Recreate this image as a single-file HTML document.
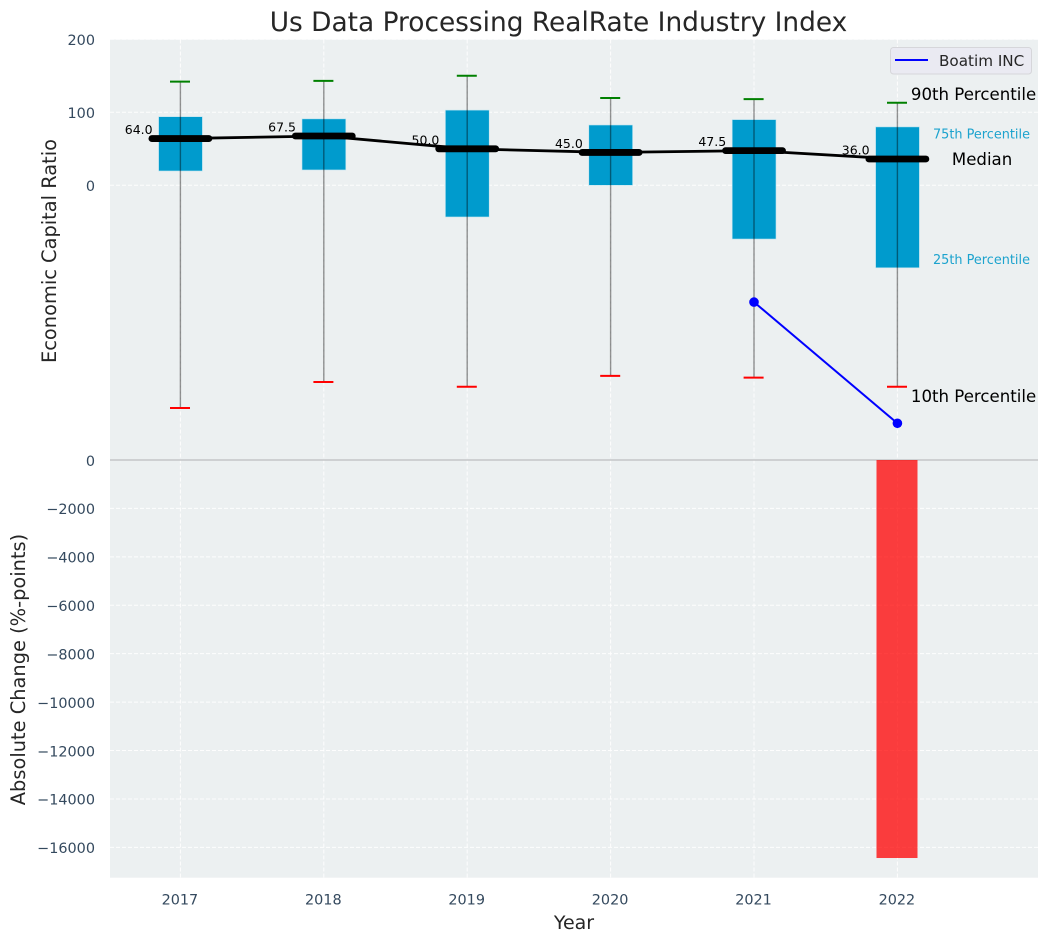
<!DOCTYPE html>
<html lang="en">
<head>
<meta charset="utf-8">
<title>Us Data Processing RealRate Industry Index</title>
<style>
html,body{margin:0;padding:0;background:#fff;width:1048px;height:942px;overflow:hidden}
svg{display:block;font-family:"DejaVu Sans","Liberation Sans",sans-serif}
</style>
</head>
<body>
<svg id="chart" xmlns="http://www.w3.org/2000/svg" width="1048" height="942" viewBox="0 0 1048 942">
  <rect x="110" y="39.5" width="928" height="838.2" fill="#ecf0f1"/>
  <g id="grid"></g>
  <g id="bars"></g>
  <g id="boxes"></g>
  <g id="whiskers"></g>
  <g id="labels"></g>
  <g id="medians"></g>
  <g id="company"></g>
  <g id="ticks"></g>
  <g id="annotations"></g>
  <text x="558.5" y="31" text-anchor="middle" font-size="26.4" fill="#262626">Us Data Processing RealRate Industry Index</text>
  <text x="574" y="929" text-anchor="middle" font-size="19" fill="#262626">Year</text>
  <text transform="translate(56,251) rotate(-90)" text-anchor="middle" font-size="19.4" fill="#262626">Economic Capital Ratio</text>
  <text transform="translate(25,669.5) rotate(-90)" text-anchor="middle" font-size="19.4" fill="#262626">Absolute Change (%-points)</text>
  <g>
    <rect x="890.5" y="47.5" width="141" height="26.5" rx="3" fill="#eaeaf2" stroke="#d6d6da" stroke-width="1"/>
    <line x1="895" y1="60" x2="928" y2="60" stroke="#0000ff" stroke-width="2"/>
    <text x="939" y="66" font-size="15.2" fill="#262626">Boatim INC</text>
  </g>
</svg>
<script>
const years = [2017, 2018, 2019, 2020, 2021, 2022];
const p90 = [142, 143, 150, 119.6, 118, 113];
const p75 = [94, 91, 103, 82.6, 90, 80];
const medianValues = [64, 67.5, 50, 45, 47.5, 36];
const p25 = [19.6, 21, -43.4, 0, -73.6, -113];
const p10 = [-305, -269.5, -276, -261, -263.5, -276];
const boatimYears = [2021, 2022];
const boatimValues = [-160, -326];
const changeYears = [2022];
const changeValues = [-16440];
const upperTicks = [200, 100, 0];
const lowerTicks = [0, -2000, -4000, -6000, -8000, -10000, -12000, -14000, -16000];

const SVG_NS = 'http://www.w3.org/2000/svg';
function xScale(year) { return 180.4 + (year - 2017) * 143.4; }
function yUpper(value) { return 185.3 - value * 0.73; }
function yLower(value) { return 460 - value * 0.02421; }
function make(tag, parentId, props) {
  const el = document.createElementNS(SVG_NS, tag);
  for (const key in props) el.setAttribute(key, props[key]);
  document.getElementById(parentId).appendChild(el);
  return el;
}
function fmtTick(v) { return String(v).replace('-', '\u2212'); }

const LEFT = 110, RIGHT = 1038, TOP = 39.5, BOTTOM = 877.7;

years.forEach(function (year) {
  const line = make('line', 'grid', { x1: xScale(year), x2: xScale(year), y1: TOP, y2: BOTTOM, stroke: '#fff', 'stroke-width': 1, 'stroke-dasharray': '4 2', opacity: 0.9 });
  
  
  const label = make('text', 'ticks', { x: xScale(year) - 0.5, y: 904.5, 'text-anchor': 'middle', 'font-size': 14.4, fill: '#34495e' });
  label.textContent = year;
  
  
});

upperTicks.forEach(function (tick) {
  const line = make('line', 'grid', { x1: LEFT, x2: RIGHT, y1: yUpper(tick), y2: yUpper(tick), stroke: '#fff', 'stroke-width': 1, 'stroke-dasharray': '4 2', opacity: 0.9 });
  
  
  const label = make('text', 'ticks', { x: 95, y: yUpper(tick) + 5.8, 'text-anchor': 'end', 'font-size': 14.4, fill: '#34495e' });
  label.textContent = fmtTick(tick);
  
  
});

lowerTicks.forEach(function (tick) {
  const isZero = tick === 0;
  const line = make('line', 'grid', { x1: LEFT, x2: RIGHT, y1: yLower(tick), y2: yLower(tick), stroke: isZero ? '#c4c6c7' : '#fff', 'stroke-width': isZero ? 1.5 : 1, 'stroke-dasharray': isZero ? 'none' : '4 2', opacity: isZero ? 1 : 0.9 });
  
  
  const label = make('text', 'ticks', { x: 95, y: yLower(tick) + 5.8, 'text-anchor': 'end', 'font-size': 14.4, fill: '#34495e' });
  label.textContent = fmtTick(tick);
  
  
});

changeValues.forEach(function (value, i) {
  const yTop = yLower(0), yEnd = yLower(value);
  const bar = make('rect', 'bars', { x: xScale(changeYears[i]) - 20.9, y: yTop, width: 41, height: yEnd - yTop, fill: 'rgba(255,0,0,0.75)' });
  
  
});

years.forEach(function (year, i) {
  const cx = xScale(year);
  const box = make('rect', 'boxes', { x: cx - 21.8, y: yUpper(p75[i]), width: 43.8, height: yUpper(p25[i]) - yUpper(p75[i]), fill: '#009bcd', stroke: '#bfe4f0', 'stroke-width': 0.6 });
  
  
  const stem = make('line', 'whiskers', { x1: cx, x2: cx, y1: yUpper(p90[i]), y2: yUpper(p10[i]), stroke: 'rgba(0,0,0,0.42)', 'stroke-width': 1.4 });
  
  
  const capTop = make('line', 'whiskers', { x1: cx - 10.4, x2: cx + 9.6, y1: yUpper(p90[i]), y2: yUpper(p90[i]), stroke: '#008000', 'stroke-width': 2 });
  
  
  const capBottom = make('line', 'whiskers', { x1: cx - 10.4, x2: cx + 9.6, y1: yUpper(p10[i]), y2: yUpper(p10[i]), stroke: '#ff0000', 'stroke-width': 2 });
  
  
  const label = make('text', 'labels', { x: cx - 27.8, y: yUpper(medianValues[i]) - 4.5, 'text-anchor': 'end', 'font-size': 12.5, fill: '#000' });
  label.textContent = medianValues[i].toFixed(1);
  
  
});

const medianPath = make('polyline', 'medians', { points: years.map(function (y, i) { return xScale(y) + ',' + yUpper(medianValues[i]); }).join(' '), fill: 'none', stroke: '#000', 'stroke-width': 2.8 });



years.forEach(function (year, i) {
  const cx = xScale(year), cy = yUpper(medianValues[i]);
  const seg = make('line', 'medians', { x1: cx - 28.5, x2: cx + 28.5, y1: cy, y2: cy, stroke: '#000', 'stroke-width': 6.8, 'stroke-linecap': 'round' });
  
  
});

const boatimPath = make('polyline', 'company', { points: boatimYears.map(function (y, i) { return xScale(y) + ',' + yUpper(boatimValues[i]); }).join(' '), fill: 'none', stroke: '#0000ff', 'stroke-width': 2 });



boatimYears.forEach(function (year, i) {
  const dot = make('circle', 'company', { cx: xScale(year), cy: yUpper(boatimValues[i]), r: 4.8, fill: '#0000ff' });
  
  
});

const last = years.length - 1;
const lastX = xScale(years[last]);

const note90 = make('text', 'annotations', { x: lastX + 13.5, y: yUpper(p90[last]) - 2.7, 'font-size': 16.6, fill: '#000' });
note90.textContent = '90th Percentile';



const note75 = make('text', 'annotations', { x: lastX + 35.6, y: yUpper(p75[last]) + 11.6, 'font-size': 12.85, fill: '#1ca3ce' });
note75.textContent = '75th Percentile';



const noteMedian = make('text', 'annotations', { x: lastX + 54.5, y: yUpper(medianValues[last]) + 6, 'font-size': 16.6, fill: '#000' });
noteMedian.textContent = 'Median';



const note25 = make('text', 'annotations', { x: lastX + 35.6, y: yUpper(p25[last]) - 3.7, 'font-size': 12.85, fill: '#1ca3ce' });
note25.textContent = '25th Percentile';



const note10 = make('text', 'annotations', { x: lastX + 13.5, y: yUpper(p10[last]) + 15.3, 'font-size': 16.6, fill: '#000' });
note10.textContent = '10th Percentile';


</script>
</body>
</html>
